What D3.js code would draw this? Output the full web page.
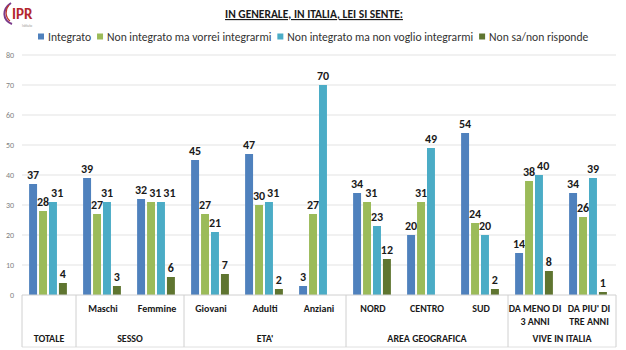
<!DOCTYPE html>
<html>
<head>
<meta charset="utf-8">
<script src="https://d3js.org/d3.v7.min.js"></script>
<style>
  body { margin: 0; background: #fff; }
  svg { display: block; font-family: Calibri, Carlito, "Liberation Sans", "Open Sans", sans-serif; }
</style>
</head>
<body>
<script>
    var w = 626, h = 350;

    // data
    var categories = ['TOTALE', 'Maschi', 'Femmine', 'Giovani', 'Adulti', 'Anziani', 'NORD', 'CENTRO', 'SUD', 'DA MENO DI|3 ANNI', "DA PIU' DI|TRE ANNI"];
    var seriesNames = ['Integrato', 'Non integrato ma vorrei integrarmi', 'Non integrato ma non voglio integrarmi', 'Non sa/non risponde'];
    var integrato = [37, 39, 32, 45, 47, 3, 34, 20, 54, 14, 34];
    var vorrei = [28, 27, 31, 27, 30, 27, 31, 31, 24, 38, 26];
    var nonVoglio = [31, 31, 31, 21, 31, 70, 23, 49, 20, 40, 39];
    var nonSa = [4, 3, 6, 7, 2, null, 12, null, 2, 8, 1];
    var groups = [['TOTALE', 1], ['SESSO', 2], ["ETA'", 3], ['AREA GEOGRAFICA', 3], ['VIVE IN ITALIA', 2]];
    var yTicks = [0, 10, 20, 30, 40, 50, 60, 70, 80];
    var colors = ['#4f81bd', '#9bbb59', '#4bacc6', '#5f7530'];

    var series = [integrato, vorrei, nonVoglio, nonSa];

    var svg = d3.select('body').append('svg')
        .attr('width', w).attr('height', h);

    // scales
    var x0 = d3.scaleBand().domain(d3.range(categories.length))
        .range([21, 615]).paddingInner(0.3).paddingOuter(0.15);
    var x1 = d3.scaleBand().domain(d3.range(4))
        .range([0, x0.bandwidth()]).paddingInner(0.2).paddingOuter(0);
    var y = d3.scaleLinear().domain([0, 80]).range([295, 55]);

    // gridlines
    svg.append('g').selectAll('line')
        .data(yTicks.slice(1)).enter().append('line')
        .attr('x1', 22).attr('x2', 616)
        .attr('y1', function(d) { return y(d); })
        .attr('y2', function(d) { return y(d); })
        .attr('stroke', '#e3e3e3').attr('stroke-width', 1);

    // y axis labels
    svg.append('g').selectAll('text')
        .data(yTicks).enter().append('text')
        .attr('x', 14).attr('y', function(d) { return y(d) + 3; })
        .attr('text-anchor', 'end')
        .attr('font-size', '8px').attr('fill', '#7f7f7f')
        .text(function(d) { return d; });

    // bars
    var gCat = svg.append('g').selectAll('g')
        .data(categories).enter().append('g')
        .attr('transform', function(d, i) { return 'translate(' + x0(i) + ',0)'; });

    gCat.each(function(c, i) {
        var g = d3.select(this);
        var prev = null;
        series.forEach(function(s, j) {
            var v = s[i];
            if (v == null) return;
            g.append('rect')
                .attr('x', x1(j)).attr('width', x1.bandwidth())
                .attr('y', y(v)).attr('height', y(0) - y(v))
                .attr('fill', colors[j]);
            var cx = x1(j) + x1.bandwidth() / 2;
            var ly = y(v) - 5;
            var lbl = g.append('text')
                .attr('x', cx)
                .attr('y', ly)
                .attr('text-anchor', 'middle')
                .attr('font-size', '12px').attr('font-weight', 'bold')
                .attr('fill', '#1a1a1a')
                .text(v);
            // nudge labels that would sit on top of the previous one
            var tw = lbl.node().getComputedTextLength();
            if (prev && Math.abs(prev.y - ly) < 11 && cx - tw / 2 < prev.right + 2) {
                cx = prev.right + 2 + tw / 2;
                lbl.attr('x', cx);
            }
            prev = { right: cx + tw / 2, y: ly };
        });
    });

    // category axis
    var axis = svg.append('g');
    axis.append('line').attr('x1', 22).attr('x2', 616)
        .attr('y1', 295).attr('y2', 295).attr('stroke', '#d0d0d0');
    axis.append('line').attr('x1', 22).attr('x2', 616)
        .attr('y1', 347).attr('y2', 347).attr('stroke', '#e0e0e0');

    var step = x0.step();
    var start = 0;
    axis.append('line').attr('x1', 22).attr('x2', 22)
        .attr('y1', 295).attr('y2', 347).attr('stroke', '#d0d0d0');
    groups.forEach(function(gr) {
        var left = 22 + start * step;
        var right = 22 + (start + gr[1]) * step;
        axis.append('line').attr('x1', right).attr('x2', right)
            .attr('y1', 295).attr('y2', 347).attr('stroke', '#d0d0d0');
        axis.append('text')
            .attr('x', (left + right) / 2).attr('y', 342)
            .attr('text-anchor', 'middle')
            .attr('font-size', '10px').attr('font-weight', 'bold').attr('fill', '#1a1a1a')
            .text(gr[0]);
        start += gr[1];
    });

    categories.forEach(function(c, i) {
        if (i === 0) return;
        var lines = c.split('|');
        var cx = 22 + (i + 0.5) * step;
        lines.forEach(function(t, k) {
            axis.append('text')
                .attr('x', cx).attr('y', 312 + k * 13)
                .attr('text-anchor', 'middle')
                .attr('font-size', '10px').attr('font-weight', 'bold').attr('fill', '#1a1a1a')
                .text(t);
        });
    });

    // title
    svg.append('text')
        .attr('x', 314).attr('y', 18)
        .attr('text-anchor', 'middle')
        .attr('font-size', '11.5px').attr('font-weight', 'bold')
        .attr('text-decoration', 'underline').attr('fill', '#1a1a1a')
        .text('IN GENERALE, IN ITALIA, LEI SI SENTE:');

    // legend
    var lx = 38;
    seriesNames.forEach(function(n, j) {
        svg.append('rect').attr('x', lx).attr('y', 33.5)
            .attr('width', 6).attr('height', 6).attr('fill', colors[j]);
        var t = svg.append('text').attr('x', lx + 10).attr('y', 41)
            .attr('font-size', '11.6px').attr('fill', '#333')
            .text(n);
        lx += 10 + t.node().getComputedTextLength() + 6;
    });

    // logo
    var logo = svg.append('g');
    logo.append('path').attr('d', 'M11,3 C2,9 2,20 12,24')
        .attr('fill', 'none').attr('stroke', '#7a3a8a').attr('stroke-width', 2);
    logo.append('path').attr('d', 'M9,5 C5,10 5,17 10,21')
        .attr('fill', 'none').attr('stroke', '#c0392b').attr('stroke-width', 1.2);
    logo.append('text').attr('x', 12).attr('y', 19)
        .attr('font-size', '15px').attr('font-weight', 'bold').attr('fill', '#b3262e')
        .text('IPR');
    logo.append('text').attr('x', 22).attr('y', 27)
        .attr('font-size', '3.5px').attr('fill', '#999')
        .text('Istituto');
</script>
</body>
</html>
